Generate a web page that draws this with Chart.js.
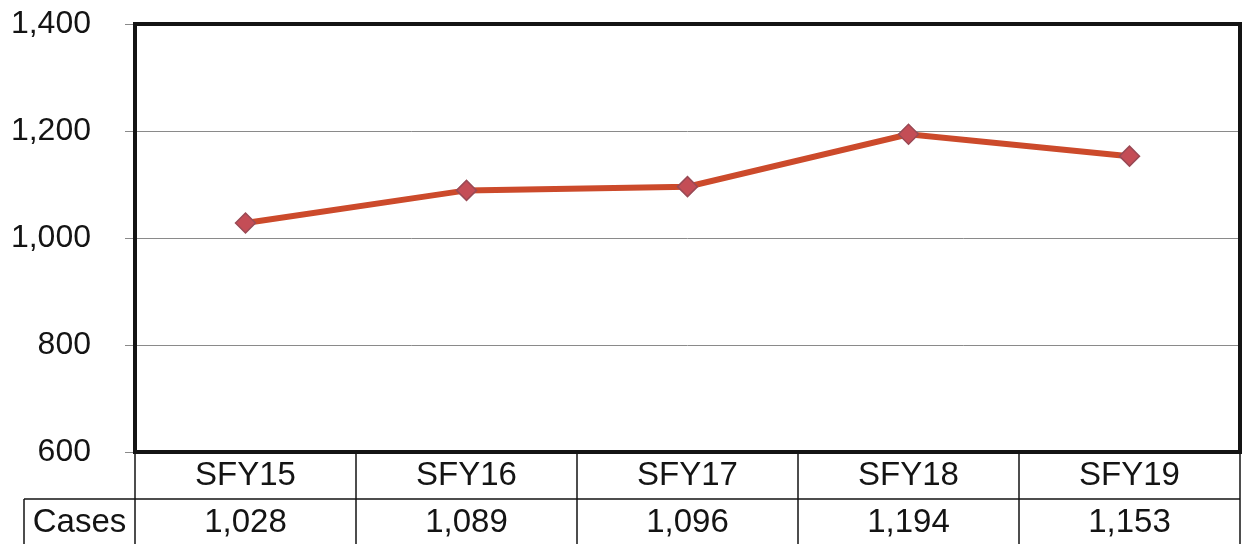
<!DOCTYPE html>
<html>
<head>
<meta charset="utf-8">
<script src="https://cdn.jsdelivr.net/npm/chart.js@4/dist/chart.umd.min.js"></script>
<style>
  html, body { margin: 0; padding: 0; background: #fff; }
  #wrap { width: 1243px; height: 544px; position: relative; }
</style>
</head>
<body>
<div id="wrap"><canvas id="casesChart"></canvas></div>
<script>
var categories = ['SFY15', 'SFY16', 'SFY17', 'SFY18', 'SFY19'];
var cases = [1028, 1089, 1096, 1194, 1153];
var rowLabel = 'Cases';
var yMin = 600, yMax = 1400, yStep = 200;

var FONT = "'Liberation Sans', Arial, sans-serif";
var INK = '#141414';

function fmt(v) { return v.toLocaleString('en-US'); }

// frame around the plot plus the data table underneath
var tablePlugin = {
  id: 'dataTable',
  afterDraw: function (chart) {
    var ctx = chart.ctx;
    var a = chart.chartArea;
    var x = chart.scales.x;
    var rowMid = 499, tableBottom = 544, labelLeft = 24;

    ctx.save();
    ctx.strokeStyle = INK;

    // thin table lines
    ctx.lineWidth = 1.5;
    ctx.beginPath();
    ctx.moveTo(labelLeft, rowMid); ctx.lineTo(a.right, rowMid);
    ctx.moveTo(labelLeft, rowMid); ctx.lineTo(labelLeft, tableBottom);
    var edges = [a.left];
    for (var i = 0; i < categories.length - 1; i++) {
      edges.push((x.getPixelForValue(i) + x.getPixelForValue(i + 1)) / 2);
    }
    edges.push(a.right);
    edges.forEach(function (ex) {
      ctx.moveTo(ex, a.bottom); ctx.lineTo(ex, tableBottom);
    });
    ctx.stroke();

    // heavy plot frame
    ctx.lineWidth = 4;
    ctx.strokeRect(a.left, a.top, a.right - a.left, a.bottom - a.top);

    // table text
    ctx.fillStyle = INK;
    ctx.font = '33px ' + FONT;
    ctx.textAlign = 'center';
    ctx.textBaseline = 'middle';
    categories.forEach(function (c, i) {
      var cx = x.getPixelForValue(i);
      ctx.fillText(c, cx, 476);
      ctx.fillText(fmt(cases[i]), cx, 523);
    });
    ctx.fillText(rowLabel, (labelLeft + a.left) / 2, 523);
    ctx.restore();
  }
};

new Chart(document.getElementById('casesChart'), {
  type: 'line',
  data: {
    labels: categories,
    datasets: [{
      label: rowLabel,
      data: cases,
      borderColor: '#CC4A2B',
      borderWidth: 6,
      pointStyle: 'rectRot',
      pointRadius: 10,
      pointHoverRadius: 10,
      pointBackgroundColor: '#C44D56',
      pointBorderColor: '#9A4A55',
      pointBorderWidth: 1.5,
      tension: 0,
      fill: false
    }]
  },
  options: {
    responsive: true,
    maintainAspectRatio: false,
    animation: false,
    layout: { autoPadding: false, padding: { top: 24, right: 3, bottom: 92, left: 0 } },
    plugins: { legend: { display: false }, tooltip: { enabled: false } },
    scales: {
      x: {
        display: false,
        offset: true
      },
      y: {
        min: yMin,
        max: yMax,
        afterFit: function (scale) {
          scale.width = 135;
          scale.paddingTop = 0;
          scale.paddingBottom = 0;
        },
        border: { display: false },
        grid: { color: '#8a8a8a', lineWidth: 1, tickLength: 10 },
        ticks: {
          stepSize: yStep,
          padding: 34,
          color: INK,
          font: { family: FONT, size: 32 },
          callback: function (v) { return fmt(v); }
        }
      }
    }
  },
  plugins: [tablePlugin]
});
</script>
</body>
</html>
